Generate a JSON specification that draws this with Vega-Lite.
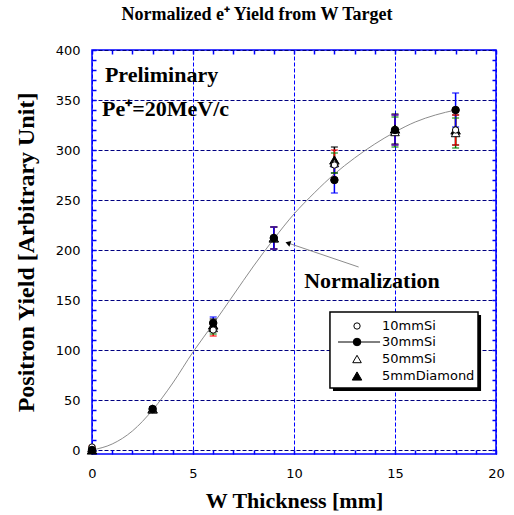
{
  "$schema": "https://vega.github.io/schema/vega-lite/v6.json",
  "width": 404,
  "height": 404,
  "autosize": {"type": "none"},
  "padding": {"left": 92, "top": 50, "right": 18, "bottom": 61},
  "background": "white",
  "title": {"text": "Normalized e⁺ Yield from W Target", "font": "Liberation Serif", "fontSize": 18, "fontWeight": "bold", "color": "black", "anchor": "middle", "dx": -37, "offset": 20},
  "config": {
    "view": {"stroke": "#0000ff", "strokeWidth": 1.5}
  },
  "datasets": {
    "points": [
      {"series": "5mmDiamond", "x": 0, "y": 0, "lo": -1, "hi": 1},
      {"series": "50mmSi", "x": 0, "y": 2, "lo": 1, "hi": 3},
      {"series": "10mmSi", "x": 0, "y": 3, "lo": 2, "hi": 4},
      {"series": "30mmSi", "x": 0, "y": 0, "lo": -1, "hi": 1},
      {"series": "5mmDiamond", "x": 3, "y": 41, "lo": 39, "hi": 43},
      {"series": "50mmSi", "x": 3, "y": 41, "lo": 39, "hi": 43},
      {"series": "10mmSi", "x": 3, "y": 41, "lo": 39, "hi": 43},
      {"series": "30mmSi", "x": 3, "y": 41, "lo": 39, "hi": 43},
      {"series": "5mmDiamond", "x": 6, "y": 125, "lo": 119, "hi": 131},
      {"series": "50mmSi", "x": 6, "y": 122, "lo": 116, "hi": 128},
      {"series": "10mmSi", "x": 6, "y": 120, "lo": 114, "hi": 126},
      {"series": "30mmSi", "x": 6, "y": 127, "lo": 121, "hi": 133},
      {"series": "5mmDiamond", "x": 9, "y": 212, "lo": 201, "hi": 223},
      {"series": "50mmSi", "x": 9, "y": 212, "lo": 201, "hi": 223},
      {"series": "10mmSi", "x": 9, "y": 212, "lo": 201, "hi": 223},
      {"series": "30mmSi", "x": 9, "y": 212, "lo": 201, "hi": 223},
      {"series": "5mmDiamond", "x": 12, "y": 290, "lo": 277, "hi": 303},
      {"series": "50mmSi", "x": 12, "y": 287, "lo": 277, "hi": 297},
      {"series": "10mmSi", "x": 12, "y": 285, "lo": 270, "hi": 300},
      {"series": "30mmSi", "x": 12, "y": 270, "lo": 257, "hi": 283},
      {"series": "5mmDiamond", "x": 15, "y": 321, "lo": 306, "hi": 336},
      {"series": "50mmSi", "x": 15, "y": 318, "lo": 303, "hi": 333},
      {"series": "10mmSi", "x": 15, "y": 320, "lo": 305, "hi": 335},
      {"series": "30mmSi", "x": 15, "y": 320, "lo": 305, "hi": 335},
      {"series": "5mmDiamond", "x": 18, "y": 320, "lo": 305, "hi": 335},
      {"series": "50mmSi", "x": 18, "y": 317, "lo": 302, "hi": 332},
      {"series": "10mmSi", "x": 18, "y": 320, "lo": 305, "hi": 335},
      {"series": "30mmSi", "x": 18, "y": 340, "lo": 323, "hi": 357}
    ],
    "curve": [
      {"x": 0, "y": 0}, {"x": 1, "y": 6}, {"x": 2, "y": 19}, {"x": 3, "y": 40},
      {"x": 4, "y": 67}, {"x": 5, "y": 98}, {"x": 6, "y": 126}, {"x": 7, "y": 155},
      {"x": 8, "y": 184}, {"x": 9, "y": 211}, {"x": 10, "y": 236}, {"x": 11, "y": 257},
      {"x": 12, "y": 276}, {"x": 13, "y": 292}, {"x": 14, "y": 306}, {"x": 15, "y": 318},
      {"x": 16, "y": 328}, {"x": 17, "y": 335}, {"x": 18, "y": 340}
    ],
    "leftnotes": [
      {"x": 0.64, "y": 375, "text": "Preliminary"},
      {"x": 0.5, "y": 341, "text": "Pe⁺=20MeV/c"}
    ],
    "centernotes": [
      {"x": 13.86, "y": 169, "text": "Normalization"}
    ],
    "arrow": [{"x": 13.2, "y": 183, "x2": 9.7, "y2": 207}],
    "legendbox": [{"x": 11.78, "x2": 19.11, "y": 62, "y2": 138}],
    "legendshadow": [{"x": 11.93, "x2": 19.26, "y": 59, "y2": 135}],
    "legendline": [{"x": 12.18, "x2": 14.26, "y": 108}],
    "legendrows": [
      {"series": "10mmSi", "x": 13.12, "tx": 14.36, "y": 124},
      {"series": "30mmSi", "x": 13.12, "tx": 14.36, "y": 108},
      {"series": "50mmSi", "x": 13.12, "tx": 14.36, "y": 91},
      {"series": "5mmDiamond", "x": 13.12, "tx": 14.36, "y": 74}
    ]
  },
  "resolve": {"axis": {"x": "independent", "y": "independent"}},
  "layer": [
    {
      "data": {"name": "curve"},
      "mark": {"type": "line", "interpolate": "monotone", "color": "#8c8c8c", "strokeWidth": 1},
      "encoding": {
        "x": {"field": "x", "type": "quantitative", "scale": {"domain": [0, 20], "nice": false, "zero": false},
          "axis": {"orient": "bottom", "values": [0, 5, 10, 15, 20], "grid": true, "gridColor": "#0000ff", "gridDash": [4, 2], "gridWidth": 1, "ticks": false, "domain": false, "labelFont": "DejaVu Sans", "labelFontSize": 13, "labelColor": "black", "labelPadding": 13, "labelFlush": false, "title": "W Thickness [mm]", "titleFont": "Liberation Serif", "titleFontSize": 22, "titleFontWeight": "bold", "titleColor": "black", "titlePadding": 10}},
        "y": {"field": "y", "type": "quantitative", "scale": {"domain": [-4, 400], "nice": false, "zero": false},
          "axis": {"orient": "left", "values": [0, 50, 100, 150, 200, 250, 300, 350, 400], "grid": true, "gridColor": "#000080", "gridDash": [4, 2], "gridWidth": 1, "ticks": false, "domain": false, "labelFont": "DejaVu Sans", "labelFontSize": 13, "labelColor": "black", "labelPadding": 12, "title": "Positron Yield [Arbitrary Unit]", "titleFont": "Liberation Serif", "titleFontSize": 24, "titleFontWeight": "bold", "titleColor": "black", "titlePadding": 17}}
      }
    },
    {
      "data": {"name": "points"},
      "mark": {"type": "rule", "strokeWidth": 1.5},
      "encoding": {
        "x": {"field": "x", "type": "quantitative",
          "axis": {"orient": "bottom", "values": [0,1,2,3,4,5,6,7,8,9,10,11,12,13,14,15,16,17,18,19,20], "grid": false, "ticks": true, "tickSize": -4, "tickColor": "#0000ff", "tickWidth": 1.5, "labels": false, "domain": false, "title": null}},
        "y": {"field": "lo", "type": "quantitative",
          "axis": {"orient": "left", "values": [0,10,20,30,40,50,60,70,80,90,100,110,120,130,140,150,160,170,180,190,200,210,220,230,240,250,260,270,280,290,300,310,320,330,340,350,360,370,380,390,400], "grid": false, "ticks": true, "tickSize": -4, "tickColor": "#0000ff", "tickWidth": 1.5, "labels": false, "domain": false, "title": null}},
        "y2": {"field": "hi"},
        "color": {"field": "series", "type": "nominal", "scale": {"domain": ["10mmSi", "30mmSi", "50mmSi", "5mmDiamond"], "range": ["#ff0000", "#0000ff", "#008000", "#000000"]}, "legend": null}
      }
    },
    {
      "data": {"name": "points"},
      "mark": {"type": "tick", "orient": "horizontal", "size": 7, "thickness": 1.5},
      "encoding": {
        "x": {"field": "x", "type": "quantitative",
          "axis": {"orient": "top", "values": [0,1,2,3,4,5,6,7,8,9,10,11,12,13,14,15,16,17,18,19,20], "grid": false, "ticks": true, "tickSize": -4, "tickColor": "#0000ff", "tickWidth": 1.5, "labels": false, "domain": false, "title": null}},
        "y": {"field": "lo", "type": "quantitative",
          "axis": {"orient": "right", "values": [0,10,20,30,40,50,60,70,80,90,100,110,120,130,140,150,160,170,180,190,200,210,220,230,240,250,260,270,280,290,300,310,320,330,340,350,360,370,380,390,400], "grid": false, "ticks": true, "tickSize": -4, "tickColor": "#0000ff", "tickWidth": 1.5, "labels": false, "domain": false, "title": null}},
        "color": {"field": "series", "type": "nominal", "legend": null}
      }
    },
    {
      "data": {"name": "points"},
      "mark": {"type": "tick", "orient": "horizontal", "size": 7, "thickness": 1.5},
      "encoding": {
        "x": {"field": "x", "type": "quantitative", "axis": null},
        "y": {"field": "hi", "type": "quantitative", "axis": null},
        "color": {"field": "series", "type": "nominal", "legend": null}
      }
    },
    {
      "data": {"name": "points"},
      "mark": {"type": "point", "filled": true, "stroke": "black", "strokeWidth": 1, "opacity": 1},
      "encoding": {
        "x": {"field": "x", "type": "quantitative", "axis": null},
        "y": {"field": "y", "type": "quantitative", "axis": null},
        "shape": {"field": "series", "type": "nominal", "scale": {"domain": ["10mmSi", "30mmSi", "50mmSi", "5mmDiamond"], "range": ["circle", "circle", "triangle-up", "triangle-up"]}, "legend": null},
        "fill": {"field": "series", "type": "nominal", "scale": {"domain": ["10mmSi", "30mmSi", "50mmSi", "5mmDiamond"], "range": ["white", "black", "white", "black"]}, "legend": null},
        "size": {"field": "series", "type": "nominal", "scale": {"domain": ["10mmSi", "30mmSi", "50mmSi", "5mmDiamond"], "range": [40, 90, 40, 35]}, "legend": null}
      }
    },
    {
      "data": {"name": "arrow"},
      "mark": {"type": "rule", "color": "#8c8c8c", "strokeWidth": 1},
      "encoding": {
        "x": {"field": "x", "type": "quantitative", "axis": null},
        "y": {"field": "y", "type": "quantitative", "axis": null},
        "x2": {"field": "x2"},
        "y2": {"field": "y2"}
      }
    },
    {
      "data": {"name": "arrow"},
      "mark": {"type": "point", "shape": "triangle-left", "filled": true, "color": "black", "size": 35, "angle": 19, "opacity": 1},
      "encoding": {
        "x": {"field": "x2", "type": "quantitative", "axis": null},
        "y": {"field": "y2", "type": "quantitative", "axis": null}
      }
    },
    {
      "data": {"name": "leftnotes"},
      "mark": {"type": "text", "font": "Liberation Serif", "fontSize": 22, "fontWeight": "bold", "color": "black", "baseline": "middle", "align": "left"},
      "encoding": {
        "x": {"field": "x", "type": "quantitative", "axis": null},
        "y": {"field": "y", "type": "quantitative", "axis": null},
        "text": {"field": "text"}
      }
    },
    {
      "data": {"name": "centernotes"},
      "mark": {"type": "text", "font": "Liberation Serif", "fontSize": 22, "fontWeight": "bold", "color": "black", "baseline": "middle", "align": "center"},
      "encoding": {
        "x": {"field": "x", "type": "quantitative", "axis": null},
        "y": {"field": "y", "type": "quantitative", "axis": null},
        "text": {"field": "text"}
      }
    },
    {
      "data": {"name": "legendshadow"},
      "mark": {"type": "rect", "color": "black"},
      "encoding": {
        "x": {"field": "x", "type": "quantitative", "axis": null},
        "x2": {"field": "x2"},
        "y": {"field": "y", "type": "quantitative", "axis": null},
        "y2": {"field": "y2"}
      }
    },
    {
      "data": {"name": "legendbox"},
      "mark": {"type": "rect", "fill": "white", "stroke": "black", "strokeWidth": 1.5},
      "encoding": {
        "x": {"field": "x", "type": "quantitative", "axis": null},
        "x2": {"field": "x2"},
        "y": {"field": "y", "type": "quantitative", "axis": null},
        "y2": {"field": "y2"}
      }
    },
    {
      "data": {"name": "legendline"},
      "mark": {"type": "rule", "color": "black", "strokeWidth": 1},
      "encoding": {
        "x": {"field": "x", "type": "quantitative", "axis": null},
        "x2": {"field": "x2"},
        "y": {"field": "y", "type": "quantitative", "axis": null}
      }
    },
    {
      "data": {"name": "legendrows"},
      "mark": {"type": "point", "filled": true, "stroke": "black", "strokeWidth": 1, "opacity": 1},
      "encoding": {
        "x": {"field": "x", "type": "quantitative", "axis": null},
        "y": {"field": "y", "type": "quantitative", "axis": null},
        "shape": {"field": "series", "type": "nominal", "legend": null},
        "fill": {"field": "series", "type": "nominal", "legend": null},
        "size": {"field": "series", "type": "nominal", "legend": null}
      }
    },
    {
      "data": {"name": "legendrows"},
      "mark": {"type": "text", "font": "DejaVu Sans", "fontSize": 13, "color": "black", "align": "left", "baseline": "middle"},
      "encoding": {
        "x": {"field": "tx", "type": "quantitative", "axis": null},
        "y": {"field": "y", "type": "quantitative", "axis": null},
        "text": {"field": "series"}
      }
    }
  ]
}
